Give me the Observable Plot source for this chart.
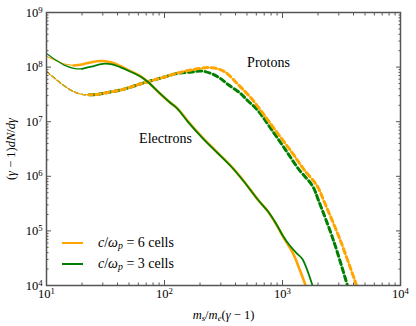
<!DOCTYPE html>
<html><head><meta charset="utf-8">
<script src="https://cdn.jsdelivr.net/npm/d3@7"></script>
<script src="https://cdn.jsdelivr.net/npm/@observablehq/plot@0.6"></script>
<style>
body{margin:0;background:#fff;}
#chart{position:relative;width:416px;height:326px;font-family:'Liberation Serif';color:#000;}
#chart svg, #chart svg text, #chart svg tspan{font-family:'Liberation Serif' !important;}
#legend{position:absolute;left:62px;top:233px;font-size:14px;line-height:20.5px;font-family:'Liberation Serif';}
#legend .row{display:flex;align-items:center;white-space:nowrap;}
#legend .sw{width:21px;height:0;border-top:2px solid;margin-right:15px;}
#legend i{font-style:italic;}
#legend sub{font-size:70%;vertical-align:-0.25em;line-height:0;}
</style></head><body><div id="chart"></div>
<script>
// Electrons, c/wp = 6 cells (orange)
const elec6X = [10,12,14,17,20,24,29,35,42,50,62,72,90,110,129,160,214,280,362,467,627,746,880,1020,1220,1400,1570];
const elec6Y = [1.58e8,1.32e8,1.15e8,1.07e8,1.12e8,1.23e8,1.29e8,1.23e8,1.05e8,8.7e7,6.9e7,5.4e7,3.4e7,2.3e7,1.74e7,9.8e6,4.9e6,2.75e6,1.58e6,8.3e5,3.6e5,2.34e5,1.35e5,7.6e4,4.0e4,1.95e4,1.0e4];
// Electrons, c/wp = 3 cells (green)
const elec3X = [10,12,14,17,20,24,30,36,42,50,62,72,90,110,129,160,214,280,362,467,627,746,880,1020,1130,1333,1469,1795];
const elec3Y = [1.78e8,1.35e8,1.10e8,9.5e7,9.3e7,1.02e8,1.15e8,1.12e8,1.0e8,8.5e7,6.8e7,5.4e7,3.4e7,2.3e7,1.72e7,9.6e6,4.8e6,2.7e6,1.56e6,8.2e5,3.6e5,2.34e5,1.37e5,7.8e4,5.7e4,3.8e4,3.1e4,1.0e4];
// Protons, c/wp = 6 cells (orange)
const prot6X = [10,12,14,17,20,23,27,32,40,50,62,80,100,130,170,245,300,340,420,535,700,905,1200,1500,1970,2240,3100,4240];
const prot6Y = [8.3e7,6.0e7,4.6e7,3.55e7,3.16e7,3.1e7,3.16e7,3.4e7,3.7e7,4.2e7,4.9e7,5.75e7,6.6e7,7.8e7,8.9e7,9.8e7,8.9e7,7.6e7,4.8e7,2.8e7,1.32e7,6.2e6,2.75e6,1.38e6,6.6e5,3.55e5,6.6e4,1.0e4];
// Protons, c/wp = 3 cells (green)
const prot3X = [10,12,14,17,20,23,27,32,40,50,62,80,100,130,170,203,250,297,350,440,505,610,830,1090,1360,1800,2010,2710,3550];
const prot3Y = [8.3e7,6.0e7,4.6e7,3.55e7,3.16e7,3.1e7,3.16e7,3.4e7,3.7e7,4.2e7,4.9e7,5.75e7,6.6e7,7.7e7,8.1e7,8.5e7,7.6e7,6.2e7,4.7e7,3.3e7,2.45e7,1.66e7,6.6e6,2.8e6,1.38e6,6.6e5,3.7e5,6.6e4,1.0e4];

const xMajor = [10,100,1000,10000];
const yMajor = [1e4,1e5,1e6,1e7,1e8,1e9];
const xMinor = [], yMinor = [];
for (const d of [10,100,1000]) for (let k=2;k<10;k++) xMinor.push(k*d);
for (const d of [1e4,1e5,1e6,1e7,1e8]) for (let k=2;k<10;k++) yMinor.push(k*d);

const annotations = [
  {x: 761, y: 1.21e8, text: "Protons"},
  {x: 102, y: 4.9e6, text: "Electrons"}
];
const legendItems = [
  {label: "6", color: "#FFA500"},
  {label: "3", color: "#008000"}
];

const ORANGE = "#FFA500", GREEN = "#008000";
const FONT = "Liberation Serif";
const toRows = (xs, ys) => xs.map((x,i)=>({x, y: ys[i]}));
const e6 = toRows(elec6X, elec6Y), e3 = toRows(elec3X, elec3Y);
const p6 = toRows(prot6X, prot6Y), p3 = toRows(prot3X, prot3Y);
const early = (rows, s) => rows.filter(d => d.x <= s);
const late = (rows, s) => rows.filter(d => d.x >= s);
const curve = "catmull-rom";
const fmt = d => "10^" + Math.round(Math.log10(d));
const blank = () => "";
const AX = "#555";

const marks = [
  Plot.line(p6, {x:"x", y:"y", stroke: ORANGE, strokeWidth: 1, curve}),
  Plot.line(early(p3,23), {x:"x", y:"y", stroke: GREEN, strokeWidth: 1.3, strokeDasharray:"4,3", curve}),
  Plot.line(late(p3,23), {x:"x", y:"y", stroke: GREEN, strokeWidth: 3, strokeDasharray:"5,3.5", curve}),
  Plot.line(early(p6,23), {x:"x", y:"y", stroke: ORANGE, strokeWidth: 1.3, strokeDasharray:"4,3", curve}),
  Plot.line(late(p6,23), {x:"x", y:"y", stroke: ORANGE, strokeWidth: 3, strokeDasharray:"5,3.5", strokeDashoffset: 2, curve}),
  Plot.line(early(e6,17), {x:"x", y:"y", stroke: ORANGE, strokeWidth: 1.2, curve}),
  Plot.line(late(e6,17), {x:"x", y:"y", stroke: ORANGE, strokeWidth: 2.6, curve}),
  Plot.line(early(e3,20), {x:"x", y:"y", stroke: GREEN, strokeWidth: 1.2, curve}),
  Plot.line(late(e3,20), {x:"x", y:"y", stroke: GREEN, strokeWidth: 1.8, curve}),
  Plot.text(annotations, {x:"x", y:"y", text:"text", fontSize: 14, fill:"#000", fontFamily: FONT}),
  Plot.frame({stroke: AX, strokeWidth: 1.5}),
  Plot.axisX({anchor:"bottom", ticks: xMajor, tickSize:-5, tickPadding: 9, tickFormat: fmt, stroke: AX, fontFamily: FONT, label: "XLABEL", labelAnchor:"center", labelArrow:"none", labelOffset: 33}),
  Plot.axisX({anchor:"bottom", ticks: xMinor, tickSize:-2.5, tickFormat: blank, stroke: AX, label: null}),
  Plot.axisX({anchor:"top", ticks: xMajor, tickSize:-5, tickFormat: blank, stroke: AX, label: null}),
  Plot.axisX({anchor:"top", ticks: xMinor, tickSize:-2.5, tickFormat: blank, stroke: AX, label: null}),
  Plot.axisY({anchor:"left", ticks: yMajor, tickSize:-5, tickPadding: 9, tickFormat: fmt, stroke: AX, fontFamily: FONT, label: "YLABEL", labelAnchor:"center", labelArrow:"none", labelOffset: 40}),
  Plot.axisY({anchor:"left", ticks: yMinor, tickSize:-2.5, tickFormat: blank, stroke: AX, label: null}),
  Plot.axisY({anchor:"right", ticks: yMajor, tickSize:-5, tickFormat: blank, stroke: AX, label: null}),
  Plot.axisY({anchor:"right", ticks: yMinor, tickSize:-2.5, tickFormat: blank, stroke: AX, label: null})
];

const svg = Plot.plot({
  width: 416, height: 326,
  marginLeft: 46, marginRight: 16, marginTop: 12, marginBottom: 41,
  x: {type:"log", domain:[10,1e4]},
  y: {type:"log", domain:[1e4,1e9]},
  clip: true,
  style: {fontFamily: FONT, fontSize: "12.5px", background: "white", color: "#000"},
  marks
});

const root = document.getElementById("chart");
root.appendChild(svg);

function rich(el, parts) {
  const t = d3.select(el);
  t.text(null);
  for (const p of parts) {
    const ts = t.append("tspan").text(p.t);
    if (p.i) ts.attr("font-style","italic");
    if (p.sub) ts.attr("font-size","70%").attr("baseline-shift","-22%");
    if (p.sup) ts.attr("font-size","70%").attr("baseline-shift","45%");
  }
}
d3.select(svg).selectAll("text").each(function() {
  const s = this.textContent;
  if (/^10\^\d$/.test(s)) {
    rich(this, [{t:"10"},{t:s.slice(3), sup:true}]);
  } else if (s === "XLABEL") {
    rich(this, [{t:"m",i:true},{t:"s",i:true,sub:true},{t:"/"},{t:"m",i:true},{t:"e",i:true,sub:true},{t:"("},{t:"γ",i:true},{t:" − 1)"}]);
  } else if (s === "YLABEL") {
    rich(this, [{t:"("},{t:"γ",i:true},{t:" − 1)"},{t:"dN",i:true},{t:"/"},{t:"d",i:true},{t:"γ",i:true}]);
  }
});
d3.select(svg).selectAll("text").attr("fill","#000").attr("font-family", FONT);

const lg = document.createElement("div");
lg.id = "legend";
lg.innerHTML = legendItems.map(d =>
  `<div class="row"><span class="sw" style="border-color:${d.color}"></span><span><i>c</i>/<i>ω</i><sub><i>p</i></sub> = ${d.label} cells</span></div>`
).join("");
root.appendChild(lg);
</script>
</body></html>
